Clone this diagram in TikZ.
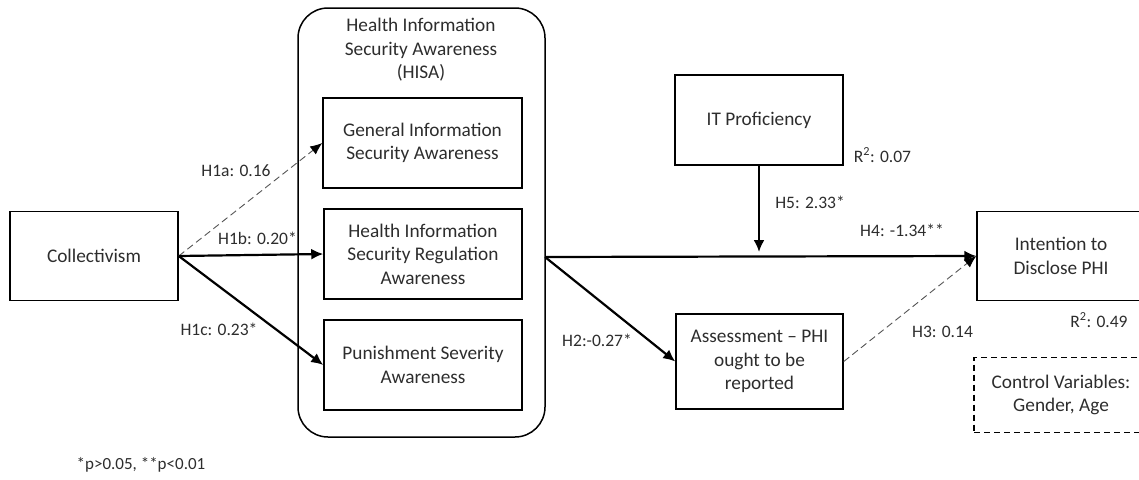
\documentclass[tikz,border=0pt]{standalone}
\usepackage{fontspec}
\setmainfont{Carlito}
\usepackage{tikz}
\usetikzlibrary{arrows.meta}
\definecolor{txtgray}{RGB}{45,45,45}
\definecolor{dashgray}{RGB}{85,85,85}

\begin{document}
\begin{tikzpicture}[x=1pt,y=-1pt,
  box/.style={draw,line width=1.5pt,align=center,inner sep=0pt,
    font=\fontsize{19.3}{23.5}\selectfont,text=txtgray},
  lbl/.style={font=\fontsize{17.5}{21}\selectfont,text=txtgray},
  sig/.style={line width=2.2pt,-{Latex[length=12pt,width=11pt]}},
  nonsig/.style={line width=0.9pt,dashgray,dash pattern=on 7pt off 4pt,
    -{Latex[length=12pt,width=10pt,color=black]}}]
  \useasboundingbox (0,0) rectangle (1139,479);
  % HISA container
  \node [draw,line width=1.5pt,rounded corners=30pt,minimum width=247pt,
    minimum height=429pt] (hisa) at (421.5,222.5) {};
  \node [box,draw=none] (hisatitle) at (421,50)
    {Health Information\\Security Awareness\\(HISA)};
  \node [box,minimum width=199pt,minimum height=90pt] (gisa) at (422.5,143)
    {General Information\\Security Awareness};
  \node [box,minimum width=198pt,minimum height=90pt] (hisra) at (423,254)
    {Health Information\\Security Regulation\\Awareness};
  \node [box,minimum width=198pt,minimum height=90pt] (psa) at (423,365)
    {Punishment Severity\\Awareness};
  % other constructs
  \node [box,minimum width=168pt,minimum height=89pt] (coll) at (94,256)
    {Collectivism};
  \node [box,minimum width=168pt,minimum height=90pt] (itp) at (759,120)
    {IT Proficiency};
  \node [box,minimum width=167pt,minimum height=95pt] (assess) at (759.5,361.5)
    {Assessment -- PHI\\ought to be\\reported};
  \node [box,minimum width=168pt,minimum height=89pt] (intent) at (1061,256)
    {Intention to\\Disclose PHI};
  \node [box,dash pattern=on 6pt off 4pt,minimum width=174pt,
    minimum height=75pt] (ctrl) at (1061,395)
    {Control Variables:\\Gender, Age};
  \coordinate (hisaout) at (545,257);
  \coordinate (moder) at (759,252);
  % paths
  \draw [nonsig] (coll.east) -- (gisa.west);
  \draw [sig] (coll.east) -- (hisra.west);
  \draw [sig] (coll.east) -- (psa.west);
  \draw [sig] (hisaout) -- (intent.west);
  \draw [sig] (hisaout) -- (assess.west);
  \draw [nonsig] (assess.east) -- (intent.west);
  \draw [sig] (itp.south) -- (moder);
  % labels
  \node [lbl] (h1a) at (236,171) {H1a: 0.16};
  \node [lbl] (h1b) at (257.5,238) {H1b: 0.20*};
  \node [lbl] (h1c) at (219,329) {H1c: 0.23*};
  \node [lbl] (h2) at (597,340) {H2:-0.27*};
  \node [lbl] (h3) at (942.5,332) {H3: 0.14};
  \node [lbl] (h4) at (902,230) {H4: -1.34**};
  \node [lbl] (h5) at (810,202) {H5: 2.33*};
  \node [lbl] (r2itp) at (882.5,155) {R\textsuperscript{2}: 0.07};
  \node [lbl] (r2int) at (1099,320) {R\textsuperscript{2}: 0.49};
  \node [lbl,font=\fontsize{17}{20}\selectfont] (note) at (141,465)
    {*p>0.05, **p<0.01};
\end{tikzpicture}
\end{document}
